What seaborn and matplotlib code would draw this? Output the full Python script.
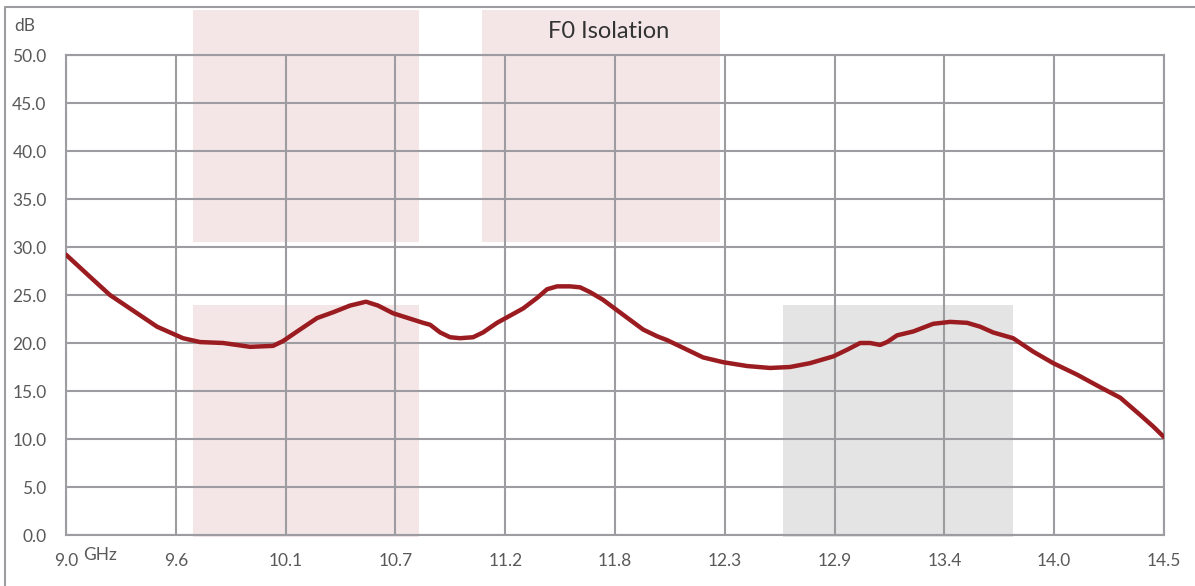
import pandas as pd
import matplotlib
matplotlib.use("Agg")
import matplotlib.pyplot as plt
from matplotlib.patches import Rectangle
from matplotlib.lines import Line2D
import seaborn as sns

# F0 isolation curve (GHz, dB)
freq = [9.000, 9.120, 9.220, 9.356, 9.456, 9.586, 9.671, 9.787, 9.922, 10.037,
        10.087, 10.172, 10.258, 10.338, 10.423, 10.503, 10.563, 10.638, 10.789,
        10.824, 10.874, 10.924, 10.974, 11.039, 11.089, 11.159, 11.290, 11.360,
        11.410, 11.460, 11.525, 11.575, 11.625, 11.690, 11.761, 11.826, 11.891,
        11.961, 12.011, 12.091, 12.191, 12.292, 12.412, 12.527, 12.627, 12.727,
        12.843, 12.913, 12.978, 13.028, 13.078, 13.113, 13.163, 13.244, 13.344,
        13.429, 13.514, 13.579, 13.644, 13.744, 13.845, 13.945, 14.065, 14.180,
        14.281, 14.381, 14.446, 14.500]
isolation = [29.2, 26.9, 25.0, 23.1, 21.7, 20.5, 20.1, 20.0, 19.6, 19.7,
             20.2, 21.4, 22.6, 23.2, 23.9, 24.3, 23.9, 23.1, 22.1,
             21.9, 21.1, 20.6, 20.5, 20.6, 21.1, 22.1, 23.6, 24.7,
             25.6, 25.9, 25.9, 25.8, 25.3, 24.5, 23.4, 22.4, 21.4,
             20.7, 20.3, 19.5, 18.5, 18.0, 17.6, 17.4, 17.5, 17.9,
             18.6, 19.3, 20.0, 20.0, 19.8, 20.1, 20.8, 21.2, 22.0,
             22.2, 22.1, 21.7, 21.1, 20.5, 19.1, 17.9, 16.7, 15.4,
             14.3, 12.5, 11.3, 10.2]

# x ticks (equally spaced) and their printed labels
xticks = [9.0, 9.55, 10.1, 10.65, 11.2, 11.75, 12.3, 12.85, 13.4, 13.95, 14.5]
xlabels = ["9.0", "9.6", "10.1", "10.7", "11.2", "11.8", "12.3", "12.9", "13.4", "14.0", "14.5"]
yticks = [0, 5, 10, 15, 20, 25, 30, 35, 40, 45, 50]

# shaded spec regions: (x0, x1, y0, y1, colour)
band_x0 = [9.637, 11.084, 9.637, 12.594]
band_x1 = [10.770, 12.277, 10.770, 13.743]
band_y0 = [30.5, 30.5, -0.25, -0.25]
band_y1 = [54.7, 54.7, 24.0, 24.0]
band_col = ["#f4e6e6", "#f4e6e6", "#f4e6e6", "#e4e4e4"]

df = pd.DataFrame({"freq": freq, "isolation": isolation})

sns.set_style("white")
plt.rcParams["font.family"] = ["Lato", "DejaVu Sans"]

grid_col = "#9d9da1"
text_col = "#595959"

fig = plt.figure(figsize=(11.95, 5.86), dpi=100)
ax = fig.add_axes([66 / 1195, 51 / 586, 1098 / 1195, 480 / 586])

for x0, x1, y0, y1, c in zip(band_x0, band_x1, band_y0, band_y1, band_col):
    ax.add_patch(Rectangle((x0, y0), x1 - x0, y1 - y0, facecolor=c,
                           edgecolor="none", zorder=0.2, clip_on=False))

line_kw = dict(solid_joinstyle="round", solid_capstyle="round")
sns.lineplot(data=df, x="freq", y="isolation", ax=ax, color="#9b1c20",
             linewidth=3.2, zorder=3, **line_kw)

ax.set_xlim(9.0, 14.5)
ax.set_ylim(0, 50)
ax.set_xticks(xticks)
ax.set_xticklabels(xlabels)
ax.set_yticks(yticks)
ax.set_yticklabels([f"{v:.1f}" for v in yticks])
ax.set_xlabel("")
ax.set_ylabel("")
ax.set_axisbelow(True)
ax.grid(True, color=grid_col, linewidth=1.5)
for s in ax.spines.values():
    s.set_color(grid_col)
    s.set_linewidth(1.5)
ax.tick_params(axis="both", length=0, labelsize=12.5, labelcolor=text_col)
ax.tick_params(axis="x", pad=13)
ax.tick_params(axis="y", pad=14)

fig.text(609 / 1195, 1 - 32 / 586, "F0 Isolation", ha="center", va="center",
         fontsize=17, color="#333333")
fig.text(25 / 1195, 1 - 26 / 586, "dB", ha="center", va="center",
         fontsize=12.5, color=text_col)
fig.text(100 / 1195, 1 - 555 / 586, "GHz", ha="center", va="center",
         fontsize=12.5, color=text_col)

# outer chart frame (top and left edges visible)
fig.add_artist(Line2D([5 / 1195, 5 / 1195, 1.0], [0.0, 1 - 7 / 586, 1 - 7 / 586],
                      transform=fig.transFigure, color=grid_col, linewidth=1.5))

fig.savefig("out.png", dpi=100)
